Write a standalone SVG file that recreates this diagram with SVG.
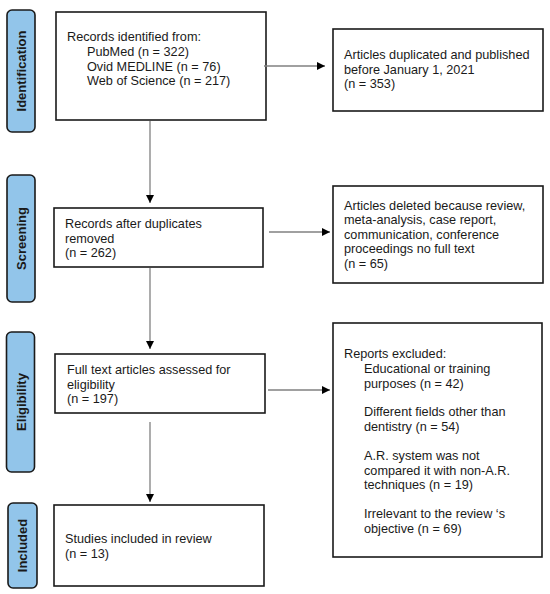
<svg xmlns="http://www.w3.org/2000/svg" width="550" height="594" viewBox="0 0 550 594">
<defs>
<marker id="ah" markerWidth="8" markerHeight="8" refX="8" refY="4" orient="auto" markerUnits="userSpaceOnUse">
<path d="M0,0 L8,4 L0,8 Z" fill="#000"/>
</marker>
<style>
.box{fill:#fff;stroke:#1a1a1a;stroke-width:1.6}
.lab{fill:#92C5EA;stroke:#1a1a1a;stroke-width:1.6}
.t{font-family:"Liberation Sans",Arial,sans-serif;font-size:12.7px;fill:#1a1a1a}
.lt{font-family:"Liberation Sans",Arial,sans-serif;font-size:13px;font-weight:bold;fill:#1a1a1a}
.c{stroke:#808080;stroke-width:1.3;fill:none}
</style>
</defs>
<rect width="550" height="594" fill="#fff"/>
<g id="label-identification">
<rect class="lab" x="7" y="10" width="28" height="122" rx="5"/>
<text class="lt" transform="translate(26,71) rotate(-90)" text-anchor="middle">Identification</text>
</g>
<g id="label-screening">
<rect class="lab" x="7" y="175" width="28" height="127" rx="5"/>
<text class="lt" transform="translate(26,238.5) rotate(-90)" text-anchor="middle">Screening</text>
</g>
<g id="label-eligibility">
<rect class="lab" x="6.5" y="332" width="28" height="140" rx="5"/>
<text class="lt" transform="translate(25.5,402) rotate(-90)" text-anchor="middle">Eligibility</text>
</g>
<g id="label-included">
<rect class="lab" x="8" y="503" width="29" height="85" rx="5"/>
<text class="lt" transform="translate(27,545.5) rotate(-90)" text-anchor="middle">Included</text>
</g>
<g id="records-identified">
<rect class="box" x="56" y="12" width="210" height="108"/>
<text class="t" x="67" y="41">Records identified from:</text>
<text class="t" x="87" y="56">PubMed (n = 322)</text>
<text class="t" x="87" y="71">Ovid MEDLINE (n = 76)</text>
<text class="t" x="87" y="85">Web of Science (n = 217)</text>
</g>
<g id="duplicates">
<rect class="box" x="333" y="29" width="210" height="82"/>
<text class="t" x="344" y="59">Articles duplicated and published</text>
<text class="t" x="344" y="74">before January 1, 2021</text>
<text class="t" x="344" y="88">(n = 353)</text>
</g>
<g id="records-after">
<rect class="box" x="54" y="208" width="209" height="59"/>
<text class="t" x="65" y="228">Records after duplicates</text>
<text class="t" x="65" y="243">removed</text>
<text class="t" x="65" y="257">(n = 262)</text>
</g>
<g id="deleted">
<rect class="box" x="333" y="186" width="210" height="97"/>
<text class="t" x="344" y="210">Articles deleted because review,</text>
<text class="t" x="344" y="224">meta-analysis, case report,</text>
<text class="t" x="344" y="239">communication, conference</text>
<text class="t" x="344" y="253">proceedings no full text</text>
<text class="t" x="344" y="268">(n = 65)</text>
</g>
<g id="full-text">
<rect class="box" x="55" y="354" width="210" height="59"/>
<text class="t" x="67" y="374">Full text articles assessed for</text>
<text class="t" x="67" y="389">eligibility</text>
<text class="t" x="67" y="403">(n = 197)</text>
</g>
<g id="excluded">
<rect class="box" x="333" y="323" width="209" height="234"/>
<text class="t" x="344" y="358">Reports excluded:</text>
<text class="t" x="364" y="373">Educational or training</text>
<text class="t" x="364" y="388">purposes (n = 42)</text>
<text class="t" x="364" y="416">Different fields other than</text>
<text class="t" x="364" y="431">dentistry (n = 54)</text>
<text class="t" x="364" y="460">A.R. system was not</text>
<text class="t" x="364" y="475">compared it with non-A.R.</text>
<text class="t" x="364" y="489">techniques (n = 19)</text>
<text class="t" x="364" y="518">Irrelevant to the review ‘s</text>
<text class="t" x="364" y="533">objective (n = 69)</text>
</g>
<g id="included">
<rect class="box" x="54" y="505" width="210" height="81"/>
<text class="t" x="65" y="543">Studies included in review</text>
<text class="t" x="65" y="558">(n = 13)</text>
</g>
<g id="connectors">
<line class="c" x1="264" y1="66" x2="325" y2="66" marker-end="url(#ah)"/>
<line class="c" x1="150" y1="121" x2="150" y2="203" marker-end="url(#ah)"/>
<line class="c" x1="269" y1="232" x2="330" y2="232" marker-end="url(#ah)"/>
<line class="c" x1="150" y1="268" x2="150" y2="349" marker-end="url(#ah)"/>
<line class="c" x1="268" y1="390" x2="330" y2="390" marker-end="url(#ah)"/>
<line class="c" x1="150" y1="422" x2="150" y2="502" marker-end="url(#ah)"/>
</g>
</svg>
